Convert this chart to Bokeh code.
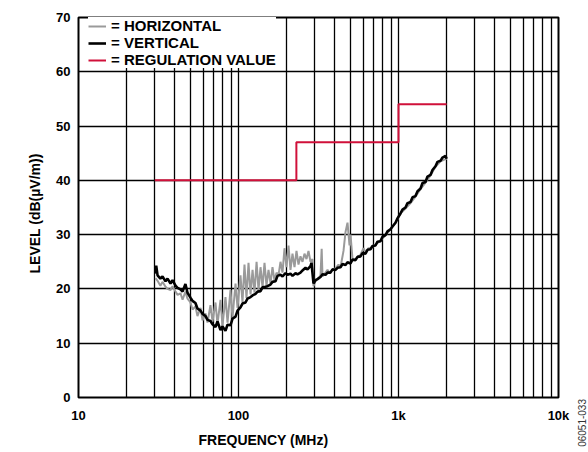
import math
from bokeh.plotting import figure
from bokeh.models import FixedTicker, Legend, LegendItem, Title, Div
from bokeh.layouts import row
from bokeh.embed import file_html
from bokeh.resources import INLINE

# ---- data ----
FREQ_V = [30.3, 30.6, 31.2, 32.5, 33.5, 35.0, 36.0, 37.6, 38.7, 40.4, 41.6, 43.4, 44.7, 46.6, 48.0,
          50.1, 51.6, 53.8, 55.4, 57.9, 59.6, 62.2, 64.0, 66.8, 68.8, 71.8, 73.9, 77.2, 79.4, 82.9,
          85.4, 89.1, 91.7, 95.8, 98.6, 102.9, 105.9, 110.6, 113.8, 118.9, 122.4, 127.8, 131.5, 137.3,
          141.3, 147.5, 151.8, 158.5, 163.1, 170.3, 175.3, 183.0, 188.4, 196.7, 202.4, 211.3, 217.5,
          227.1, 233.7, 244.0, 251.2, 262.3, 269.9, 281.8, 285.9, 294.2, 302.8, 311.7, 325.5, 335.0,
          349.8, 360.0, 375.8, 386.8, 403.9, 415.7, 434.0, 446.7, 466.5, 480.1, 501.2, 515.9, 538.6,
          554.4, 578.8, 595.7, 622.0, 640.3, 668.3, 687.9, 718.3, 739.3, 771.9, 794.3, 829.4, 853.7,
          891.3, 917.4, 957.8, 985.7, 1029, 1059, 1106, 1138, 1189, 1224, 1277, 1315, 1373, 1413,
          1475, 1518, 1585, 1631, 1703, 1753, 1830, 1884, 1967, 2000]
LEVEL_V = [22.8, 24.3, 22.5, 21.9, 22.3, 21.4, 21.9, 21.0, 21.6, 20.6, 20.2, 19.9, 19.5, 20.9, 19.3,
           18.4, 17.8, 17.4, 16.4, 16.0, 15.4, 15.0, 14.3, 14.1, 13.5, 13.0, 14.0, 12.4, 13.1, 12.3,
           13.4, 13.3, 14.5, 14.9, 16.0, 16.6, 17.3, 17.5, 18.2, 18.5, 18.8, 19.1, 19.5, 19.6,
           20.3, 20.4, 20.5, 20.8, 21.3, 21.4, 22.4, 22.6, 22.3, 22.9, 22.6, 22.8, 22.4,
           22.9, 22.7, 23.0, 23.4, 23.9, 23.6, 24.2, 24.8, 21.0, 21.6, 21.8, 22.2, 22.7,
           22.6, 23.0, 23.0, 23.6, 23.5, 23.9, 24.0, 24.6, 24.4, 24.9, 24.7, 25.4, 25.3,
           25.9, 26.0, 26.6, 26.5, 27.2, 27.3, 27.9, 28.0, 28.7, 28.8, 29.6, 29.9, 30.6,
           31.0, 31.5, 32.2, 33.0, 33.9, 34.6, 35.0, 35.8, 36.0, 36.9, 37.1, 38.0, 38.5, 39.5,
           39.7, 40.7, 41.0, 41.9, 42.6, 43.4, 43.6, 44.2, 44.5, 44.0]

FREQ_H = [30.3, 31.2, 32.5, 33.5, 35.0, 36.0, 37.6, 38.7, 40.4, 41.6, 43.4, 44.7, 46.6, 48.0, 50.1,
          51.6, 53.8, 55.4, 57.9, 59.6, 62.2, 64.0, 66.8, 68.8, 71.8, 73.9, 77.2, 79.4, 82.9, 85.4,
          89.1, 91.7, 95.8, 98.6, 102.9, 105.9, 109.0, 112.2, 115.5, 118.9, 122.4, 125.9, 129.7,
          133.4, 137.3, 141.3, 145.4, 149.6, 154.0, 158.5, 163.1, 167.9, 172.8, 177.8, 183.0, 188.4,
          193.9, 199.5, 205.4, 211.3, 217.5, 223.9, 230.4, 237.1, 244.0, 251.2, 258.5, 266.1, 273.8,
          281.8, 290.0, 294.2, 302.8, 316.2, 325.5, 331.0, 335.0, 349.8, 360.0, 370.5, 386.8, 403.9,
          421.7, 434.0, 453.2, 466.5, 480.1, 494.2, 501.2, 515.9, 538.6, 562.3, 578.8, 604.4, 622.0,
          649.4, 668.3, 718.3, 771.9, 829.4, 891.3, 957.8, 1029, 1106, 1189, 1277, 1373, 1475, 1585,
          1703, 1830, 2000]
LEVEL_H = [22.0, 21.5, 20.6, 21.3, 20.4, 20.0, 19.8, 20.5, 19.5, 18.9, 19.2, 18.0, 19.5, 18.2, 17.5,
           16.2, 16.8, 15.0, 16.5, 14.2, 15.5, 13.8, 17.0, 14.0, 17.5, 13.5, 18.0, 13.2, 18.5, 13.8,
           19.8, 14.6, 21.0, 16.5, 22.5, 17.5, 24.5, 18.3, 24.8, 19.0, 23.5, 19.3, 25.0,
           19.8, 24.0, 20.3, 24.8, 20.6, 23.5, 21.0, 24.0, 21.5, 23.0, 22.5, 25.0, 23.0,
           27.5, 24.0, 28.0, 23.5, 26.5, 24.0, 27.0, 24.5, 26.0, 25.0, 26.5, 25.5, 27.0,
           25.0, 25.5, 20.5, 21.5, 22.0, 22.5, 27.4, 22.3, 23.0, 23.5, 23.0, 23.5, 23.8,
           24.5, 24.0, 27.0, 30.5, 32.2, 28.0, 30.0, 25.5, 25.5, 26.0, 26.3, 27.5, 26.8,
           27.5, 27.5, 28.2, 28.9, 29.9, 31.0, 32.2, 33.9, 34.8, 35.8, 37.0, 38.4, 39.6, 40.9,
           42.5, 43.5, 44.0]

REG_FREQ = [30, 230, 1000, 2000]
REG_LEVEL = [40, 47, 54, 54]

X_TICKS = [10, 100, 1000, 10000]
X_TICK_LABELS = ["10", "100", "1k", "10k"]
X_MINOR = [20, 30, 40, 50, 60, 70, 80, 90, 200, 300, 400, 500, 600, 700, 800, 900,
           2000, 3000, 4000, 5000, 6000, 7000, 8000, 9000]
Y_TICKS = [0, 10, 20, 30, 40, 50, 60, 70]

FONT = "Liberation Sans"

p = figure(width=576, height=452, x_axis_type="log", x_range=(10, 10000), y_range=(0, 70),
           output_backend="svg", toolbar_location=None,
           min_border_left=78, min_border_right=18, min_border_top=17, min_border_bottom=55)

p.background_fill_color = "white"
p.border_fill_color = "white"
p.outline_line_color = "black"
p.outline_line_width = 2

p.xaxis.ticker = FixedTicker(ticks=X_TICKS, minor_ticks=X_MINOR)
p.yaxis.ticker = FixedTicker(ticks=Y_TICKS)
p.xaxis.major_label_overrides = {t: l for t, l in zip(X_TICKS, X_TICK_LABELS)}

for ax in (p.xaxis[0], p.yaxis[0]):
    ax.axis_line_color = None
    ax.major_tick_line_color = None
    ax.minor_tick_line_color = None
    ax.major_tick_out = 0
    ax.major_tick_in = 0
    ax.major_label_text_font = FONT
    ax.major_label_text_font_style = "bold"
    ax.major_label_text_font_size = "13px"
    ax.major_label_text_color = "black"
p.xaxis.major_label_standoff = 6
p.yaxis.major_label_standoff = 8

p.xgrid.grid_line_color = "black"
p.xgrid.grid_line_width = 1.3
p.xgrid.minor_grid_line_color = "black"
p.xgrid.minor_grid_line_width = 1.3
p.ygrid.grid_line_color = "black"
p.ygrid.grid_line_width = 1.3

rh = p.line(FREQ_H, LEVEL_H, line_color="#9a9a9a", line_width=2)
rv = p.line(FREQ_V, LEVEL_V, line_color="black", line_width=2.6)
rr = p.step(REG_FREQ, REG_LEVEL, mode="after", line_color="#d0103a", line_width=2)

legend = Legend(items=[LegendItem(label="= HORIZONTAL", renderers=[rh]),
                       LegendItem(label="= VERTICAL", renderers=[rv]),
                       LegendItem(label="= REGULATION VALUE", renderers=[rr])],
                location=(10, 329), orientation="vertical")
legend.border_line_color = None
legend.background_fill_color = "white"
legend.background_fill_alpha = 1.0
legend.padding = 1
legend.spacing = 0
legend.margin = 0
legend.label_height = 16
legend.glyph_height = 16
legend.glyph_width = 18
legend.label_standoff = 5
legend.label_text_font = FONT
legend.label_text_font_style = "bold"
legend.label_text_font_size = "15px"
legend.label_text_color = "black"
legend.label_text_line_height = 1.0
p.add_layout(legend)

xt = Title(text="FREQUENCY (MHz)", align="left", offset=120, standoff=8,
           text_font=FONT, text_font_style="bold", text_font_size="14px", text_color="black")
p.add_layout(xt, "below")
yt = Title(text="LEVEL (dB(µV/m))", align="left", offset=124, standoff=22,
           text_font=FONT, text_font_style="bold", text_font_size="14px", text_color="black")
p.add_layout(yt, "left")

side = Div(text=('<div style="margin-top:394px; margin-left:-4px; writing-mode:vertical-rl; '
                 'transform:rotate(180deg); font-family:\'Liberation Sans\', sans-serif; '
                 'font-size:10px; line-height:12px; color:#333333; white-space:nowrap;">'
                 '06051-033</div>'),
           width=12, height=452)

layout = row(p, side)
open("out.html", "w").write(file_html(layout, INLINE))
